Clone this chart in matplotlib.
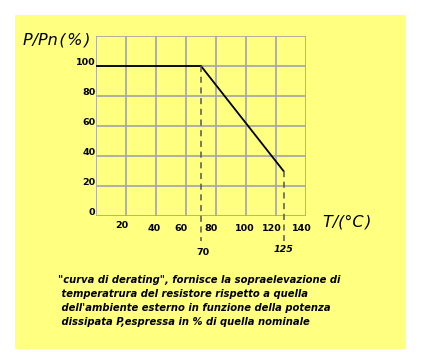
import numpy as np
import matplotlib.pyplot as plt
from matplotlib.patches import Rectangle

DPI = 100

# Derating curve: temperature (°C) vs P/Pn (%)
temp = [0, 70, 125]
power = [100, 100, 30]

# Grid ticks
x_grid = [0, 20, 40, 60, 80, 100, 120, 140]
y_grid = [0, 20, 40, 60, 80, 100, 120]

# Hand placed tick labels (as in the original drawing)
x_labels = ['20', '40', '60', '80', '100', '120', '140']
x_label_pos = [17, 39, 56.7, 76.7, 99, 117, 137]
x_label_y = [-6.5, -8.3, -8.3, -8.3, -8.3, -8.3, -8.3]
y_labels = ['0', '20', '40', '60', '80', '100']
y_label_pos = [0, 20, 40, 60, 80, 100]

# Marked temperatures
marks = [70, 125]
mark_labels = ['70', '125']

caption = ('"curva di derating", fornisce la sopraelevazione di\n'
           ' temperatrura del resistore rispetto a quella\n'
           ' dell\'ambiente esterno in funzione della potenza\n'
           ' dissipata P,espressa in % di quella nominale')

W, H = 421, 364
fig = plt.figure(figsize=(W / DPI, H / DPI), dpi=DPI)
fig.patch.set_facecolor('white')
fig.patches.append(Rectangle((15 / W, 1 - 349 / H), 391 / W, 334 / H,
                             transform=fig.transFigure, facecolor='#ffff80',
                             edgecolor='none', zorder=-10))

ax = fig.add_axes([96 / W, 1 - 216 / H, 210 / W, 180 / H])
ax.set_zorder(1)
ax.set_facecolor('none')
ax.set_xlim(0, 140)
ax.set_ylim(0, 120)
ax.set_xticks(x_grid)
ax.set_yticks(y_grid)
ax.tick_params(length=0, labelbottom=False, labelleft=False)
ax.grid(True, color='#a9a9a9', lw=1.3)
for s in ax.spines.values():
    s.set_visible(False)

ax.plot(temp, power, color='black', lw=1.3, zorder=3)

# dashed drop lines, running below the axis
for t in marks:
    p = np.interp(t, temp, power)
    ax.plot([t, t], [p, -16.5], ls=(0, (4, 3)), color='#555555', lw=1.1,
            clip_on=False, zorder=3)

ax.text(71, -24.5, mark_labels[0], ha='center', va='center', fontsize=6.8,
        fontweight='bold')
ax.text(125, -22.5, mark_labels[1], ha='center', va='center', fontsize=6.8,
        fontweight='bold', style='italic')

for lab, x, y in zip(x_labels, x_label_pos, x_label_y):
    ax.text(x, y, lab, ha='center', va='center', fontsize=6.8,
            fontweight='bold')
for lab, y in zip(y_labels, y_label_pos):
    ax.text(-0.5, y + 0.5, lab, ha='right', va='baseline', fontsize=6.8,
            fontweight='bold')

fig.text(23 / W, 1 - 40 / H, 'P/Pn\u200a(\u200a%\u200a)', ha='left',
         va='center', fontsize=11.5, style='italic')
fig.text(323 / W, 1 - 222 / H, 'T/(°C\u200a)', ha='left', va='center',
         fontsize=11.5, style='italic')

fig.text(58 / W, 1 - 275 / H, caption, ha='left', va='top',
         fontsize=7.2, fontweight='bold', style='italic', linespacing=1.5)

plt.savefig('out.png', dpi=DPI)
